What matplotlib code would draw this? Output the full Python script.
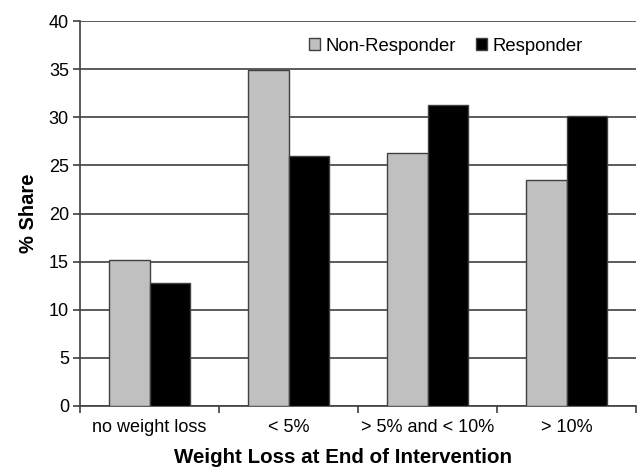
import numpy as np
import matplotlib.pyplot as plt

plt.rcParams['font.family'] = ['Liberation Sans', 'DejaVu Sans']

categories = ['no weight loss', '< 5%', '> 5% and < 10%', '> 10%']
non_responder = [15.2, 34.9, 26.3, 23.5]
responder = [12.75, 26.0, 31.3, 30.1]

fig = plt.figure(figsize=(6.38, 4.71), dpi=100)
ax = fig.add_axes([80 / 638, 65 / 471, 556 / 638, 385 / 471])

x = np.arange(len(categories))
w = 0.29
ax.bar(x - w / 2, non_responder, w, color='#c0c0c0', edgecolor='#404040', linewidth=1,
       label='Non-Responder', zorder=3)
ax.bar(x + w / 2, responder, w, color='black', edgecolor='#404040', linewidth=1,
       label='Responder', zorder=3)

ax.set_xlim(-0.5, len(categories) - 0.5)
ax.set_ylim(0, 40)
ax.set_yticks(np.arange(0, 41, 5))
ax.yaxis.grid(True, color='#404040', linewidth=1.2, zorder=0)

ax.set_xticks(x)
ax.set_xticklabels(categories)
ax.set_xticks(np.arange(len(categories) + 1) - 0.5, minor=True)
ax.tick_params(axis='x', which='major', length=0, pad=9, labelsize=13)
ax.tick_params(axis='x', which='minor', length=5, width=1.2, color='#404040')
ax.tick_params(axis='y', length=5, width=1.2, color='#404040', labelsize=13, pad=3)

for s in ['top', 'right']:
    ax.spines[s].set_visible(False)
for s in ['left', 'bottom']:
    ax.spines[s].set_color('#404040')
    ax.spines[s].set_linewidth(1.2)

ax.set_ylabel('% Share', fontsize=14.5, fontweight='bold', labelpad=8)
ax.set_xlabel('Weight Loss at End of Intervention', fontsize=14.8, fontweight='bold')
ax.xaxis.set_label_coords((343 - 80) / 556, -0.108)

ax.legend(loc='upper right', bbox_to_anchor=(0.935, 1.0), ncol=2, frameon=False,
          fontsize=13.3, handlelength=0.6, handleheight=0.6, handletextpad=0.3,
          columnspacing=1.1)

fig.savefig('out.png', dpi=100)
